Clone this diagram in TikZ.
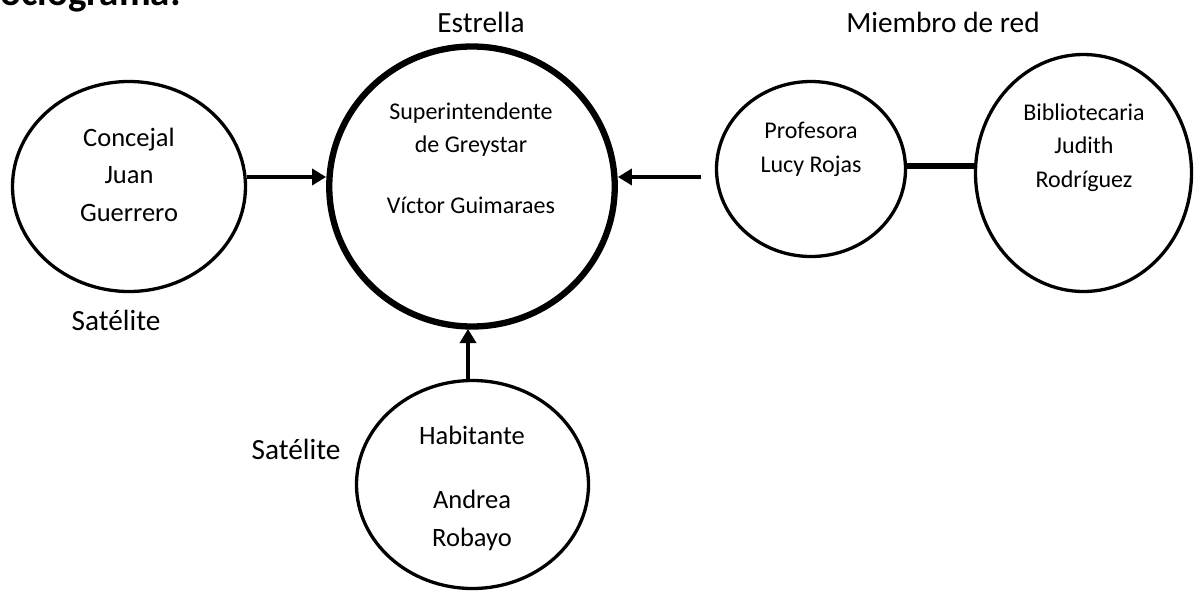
\documentclass[tikz,border=0pt]{standalone}
\usepackage{fontspec}
\setmainfont{Carlito}
\usetikzlibrary{arrows.meta,shapes.geometric}
\begin{document}
\begin{tikzpicture}[x=1pt,y=-1pt,
  circ/.style={draw=black,line width=3.3pt,ellipse,inner sep=0pt},
  txa/.style={font=\fontsize{24}{28}\selectfont,inner sep=0pt,anchor=base},
  txb/.style={font=\fontsize{26.5}{30}\selectfont,inner sep=0pt,anchor=base},
  lab/.style={font=\fontsize{29.3}{32}\selectfont,inner sep=0pt,anchor=base},
  arr/.style={line width=3.6pt,-{Stealth[length=14pt,width=16pt,inset=0pt]}}]
\useasboundingbox (0,0) rectangle (1194,592);
\node[font=\bfseries\fontsize{39}{42}\selectfont,inner sep=0pt,anchor=base east] (title) at (181,5) {Sociograma:};
\node[circ,minimum width=233pt,minimum height=210pt] (juan) at (129,186.5) {};
\node[circ,line width=6.3pt,minimum width=285.5pt,minimum height=280pt] (victor) at (472,186.5) {};
\node[circ,minimum width=189pt,minimum height=175pt] (lucy) at (811,169) {};
\node[circ,minimum width=216pt,minimum height=237pt] (judith) at (1083.5,173) {};
\node[circ,minimum width=232pt,minimum height=208pt] (andrea) at (472.5,484.5) {};
\node[txb] (t1) at (129,146) {Concejal};
\node[txb] (t2) at (129,183) {Juan};
\node[txb] (t3) at (129,221) {Guerrero};
\node[txa] (t4) at (471,119) {Superintendente};
\node[txa] (t5) at (471,152) {de Greystar};
\node[txa] (t6) at (471,213) {Víctor Guimaraes};
\node[txa] (t7) at (811,138) {Profesora};
\node[txa] (t8) at (811,172) {Lucy Rojas};
\node[txa] (t9) at (1084,120) {Bibliotecaria};
\node[txa] (t10) at (1084,153) {Judith};
\node[txa] (t11) at (1084,187) {Rodríguez};
\node[txb] (t12) at (472,444) {Habitante};
\node[txb] (t13) at (472,508) {Andrea};
\node[txb] (t14) at (472,546) {Robayo};
\node[lab] (estrella) at (481,32) {Estrella};
\node[lab] (miembro) at (943,32) {Miembro de red};
\node[lab] (sat1) at (116,330) {Satélite};
\node[lab] (sat2) at (296,459) {Satélite};
\coordinate (free) at (701,177);
\draw[arr] (juan.east |- free) -- (victor.west |- free);
\draw[arr] (free) -- (victor.east |- free);
\draw[arr] (andrea.north -| 468,0) -- (468,329);
\draw[line width=6pt] (lucy.east |- 0,165.5) -- (judith.west |- 0,165.5);
\end{tikzpicture}
\end{document}
